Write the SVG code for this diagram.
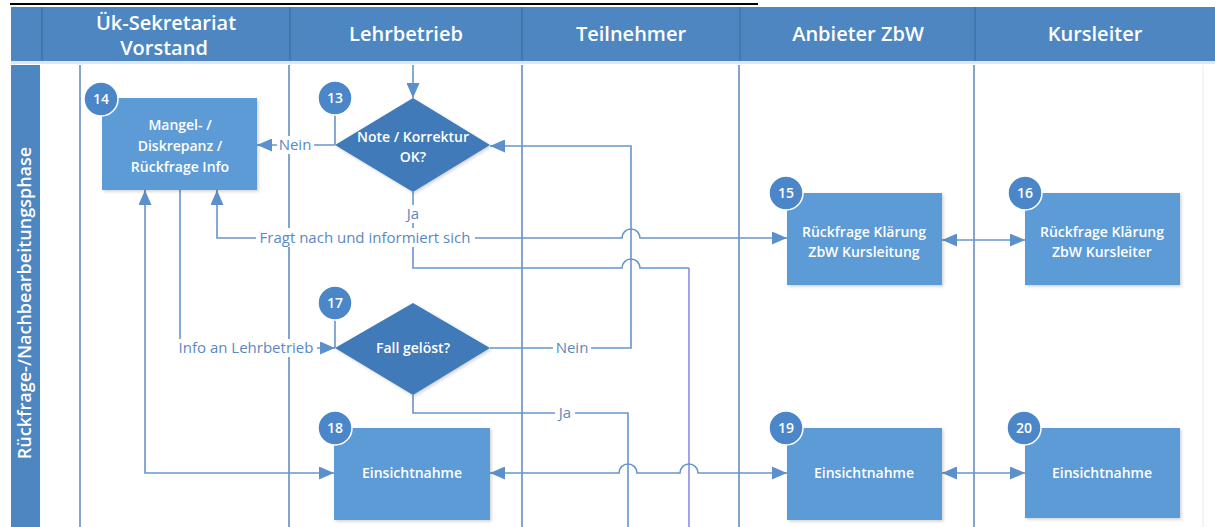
<svg xmlns="http://www.w3.org/2000/svg" width="1215" height="527" viewBox="0 0 1215 527">
  <style>
    .hdr{fill:#4d86c1}
    .hsep{stroke:#3e73aa;stroke-width:1.5}
    .htxt{font-family:"Open Sans","Noto Sans",sans-serif;font-size:20px;font-weight:600;fill:#ffffff;text-anchor:middle}
    .lane{stroke:#5a87bd;stroke-width:1.5;fill:none}
    .box{fill:#5b9bd6;filter:url(#sh)}
    .dia{fill:#3f7ab8;filter:url(#sh)}
    .ntxt{font-family:"Open Sans","Noto Sans",sans-serif;font-size:14px;font-weight:600;fill:#ffffff;text-anchor:middle}
    .badge{fill:#4a86c8;stroke:#ffffff;stroke-width:1.5}
    .btxt{font-family:"Open Sans","Noto Sans",sans-serif;font-size:14px;font-weight:600;fill:#ffffff;text-anchor:middle}
    .con{stroke:#6796cb;stroke-width:1.6;fill:none}
    .con2{stroke:#8a8ee4;stroke-width:1.6;fill:none}
    .lbl{font-family:"Open Sans","Noto Sans",sans-serif;font-size:15px;fill:#5a88bf;text-anchor:middle}
    .lblbg{fill:#ffffff}
  </style>
  <defs>
    <filter id="sh" x="-10%" y="-10%" width="130%" height="130%">
      <feDropShadow dx="1.5" dy="1.5" stdDeviation="1.5" flood-color="#000000" flood-opacity="0.18"/>
    </filter>
    <marker id="ah" viewBox="0 0 15 13" refX="15" refY="6.5" markerWidth="15" markerHeight="13" markerUnits="userSpaceOnUse" orient="auto-start-reverse">
      <path d="M0,0 L15,6.5 L0,13 z" fill="#5b90cc"/>
    </marker>
  </defs>

  <rect x="0" y="0" width="1215" height="527" fill="#ffffff"/>
  <line x1="10" y1="4" x2="758" y2="4" stroke="#000000" stroke-width="2"/>

  <g id="header">
    <rect class="hdr" x="11" y="7" width="1204" height="54"/>
    <line class="hsep" x1="42" y1="7" x2="42" y2="61"/>
    <line class="hsep" x1="290" y1="7" x2="290" y2="61"/>
    <line class="hsep" x1="522" y1="7" x2="522" y2="61"/>
    <line class="hsep" x1="740" y1="7" x2="740" y2="61"/>
    <line class="hsep" x1="975" y1="7" x2="975" y2="61"/>
    <rect x="11" y="61" width="1204" height="3" fill="#dbe7f3"/>
    <text class="htxt" x="166" y="30">Ük-Sekretariat</text>
    <text class="htxt" x="164" y="55">Vorstand</text>
    <text class="htxt" x="406" y="41">Lehrbetrieb</text>
    <text class="htxt" x="631" y="41">Teilnehmer</text>
    <text class="htxt" x="858" y="41">Anbieter ZbW</text>
    <text class="htxt" x="1095" y="41">Kursleiter</text>
  </g>

  <g id="phase">
    <rect class="hdr" x="11" y="65" width="29" height="462"/>
    <text transform="translate(31,303) rotate(-90)" font-family="'Open Sans','Noto Sans',sans-serif" font-size="18px" font-weight="600" fill="#ffffff" text-anchor="middle">Rückfrage-/Nachbearbeitungsphase</text>
  </g>

  <g id="lanes">
    <line class="lane" x1="80" y1="65" x2="80" y2="527"/>
    <line class="lane" x1="289" y1="65" x2="289" y2="527"/>
    <line class="lane" x1="522" y1="65" x2="522" y2="527"/>
    <line class="lane" x1="739" y1="65" x2="739" y2="527"/>
    <line class="lane" x1="974" y1="65" x2="974" y2="527"/>
    <line x1="1203" y1="65" x2="1203" y2="527" stroke="#e3ecf6" stroke-width="1"/>
  </g>

  <g id="connectors">
    <line class="con" x1="413" y1="65" x2="413" y2="98" marker-end="url(#ah)"/>
    <line class="con" x1="335" y1="114" x2="335" y2="145"/>
    <line class="con" x1="335" y1="319" x2="335" y2="348"/>
    <line class="con" x1="335" y1="145" x2="257" y2="145" marker-end="url(#ah)"/>
    <path class="con" d="M413,192 V268 H622 A9,9 0 0 1 640,268 H689"/>
    <path class="con2" d="M689,268 V527"/>
    <path class="con" d="M217,190 V238 H622 A9,9 0 0 1 640,238 H787" marker-start="url(#ah)" marker-end="url(#ah)"/>
    <line class="con" x1="942" y1="240" x2="1025" y2="240" marker-start="url(#ah)" marker-end="url(#ah)"/>
    <path class="con" d="M180,190 V348 H335" marker-end="url(#ah)"/>
    <path class="con" d="M145,190 V473 H334" marker-start="url(#ah)" marker-end="url(#ah)"/>
    <path class="con" d="M490,348 H631 V146 H490" marker-end="url(#ah)"/>
    <path class="con" d="M413,395 V413 H628 V527"/>
    <path class="con" d="M490,473 H619 A9,9 0 0 1 637,473 H680 A9,9 0 0 1 698,473 H787" marker-start="url(#ah)" marker-end="url(#ah)"/>
    <line class="con" x1="942" y1="473" x2="1025" y2="473" marker-start="url(#ah)" marker-end="url(#ah)"/>

    <rect class="lblbg" x="277" y="136" width="37" height="18"/>
    <text class="lbl" x="295" y="150">Nein</text>
    <rect class="lblbg" x="403" y="205" width="20" height="18"/>
    <text class="lbl" x="413" y="219">Ja</text>
    <rect class="lblbg" x="256" y="228" width="219" height="19"/>
    <text class="lbl" x="365" y="243">Fragt nach und informiert sich</text>
    <rect class="lblbg" x="178" y="339" width="139" height="18"/>
    <text class="lbl" x="246" y="353">Info an Lehrbetrieb</text>
    <rect class="lblbg" x="553" y="339" width="38" height="18"/>
    <text class="lbl" x="572" y="353">Nein</text>
    <rect class="lblbg" x="555" y="404" width="20" height="18"/>
    <text class="lbl" x="565" y="418">Ja</text>
  </g>

  <g id="n14">
    <rect class="box" x="102" y="98" width="155" height="92"/>
    <text class="ntxt" x="180" y="130">Mangel- /</text>
    <text class="ntxt" x="180" y="151">Diskrepanz /</text>
    <text class="ntxt" x="180" y="172">Rückfrage Info</text>
    <circle class="badge" cx="101" cy="99" r="17"/>
    <text class="btxt" x="101" y="104">14</text>
  </g>

  <g id="n13">
    <polygon class="dia" points="413,98 490,145 413,192 335,145"/>
    <text class="ntxt" x="413" y="142">Note / Korrektur</text>
    <text class="ntxt" x="413" y="162">OK?</text>
    <circle class="badge" cx="335" cy="98" r="17"/>
    <text class="btxt" x="335" y="103">13</text>
  </g>

  <g id="n15">
    <rect class="box" x="787" y="193" width="155" height="92"/>
    <text class="ntxt" x="864" y="237">Rückfrage Klärung</text>
    <text class="ntxt" x="864" y="257">ZbW Kursleitung</text>
    <circle class="badge" cx="786" cy="193" r="17"/>
    <text class="btxt" x="786" y="198">15</text>
  </g>

  <g id="n16">
    <rect class="box" x="1025" y="193" width="155" height="92"/>
    <text class="ntxt" x="1102" y="237">Rückfrage Klärung</text>
    <text class="ntxt" x="1102" y="257">ZbW Kursleiter</text>
    <circle class="badge" cx="1025" cy="193" r="17"/>
    <text class="btxt" x="1025" y="198">16</text>
  </g>

  <g id="n17">
    <polygon class="dia" points="413,303 490,348 413,395 335,348"/>
    <text class="ntxt" x="413" y="353">Fall gelöst?</text>
    <circle class="badge" cx="335" cy="303" r="17"/>
    <text class="btxt" x="335" y="308">17</text>
  </g>

  <g id="n18">
    <rect class="box" x="334" y="428" width="156" height="92"/>
    <text class="ntxt" x="412" y="478">Einsichtnahme</text>
    <circle class="badge" cx="335" cy="428" r="17"/>
    <text class="btxt" x="335" y="433">18</text>
  </g>

  <g id="n19">
    <rect class="box" x="787" y="428" width="155" height="92"/>
    <text class="ntxt" x="864" y="478">Einsichtnahme</text>
    <circle class="badge" cx="786" cy="428" r="17"/>
    <text class="btxt" x="786" y="433">19</text>
  </g>

  <g id="n20">
    <rect class="box" x="1025" y="428" width="155" height="90"/>
    <text class="ntxt" x="1102" y="478">Einsichtnahme</text>
    <circle class="badge" cx="1024" cy="428" r="17"/>
    <text class="btxt" x="1024" y="433">20</text>
  </g>
</svg>
